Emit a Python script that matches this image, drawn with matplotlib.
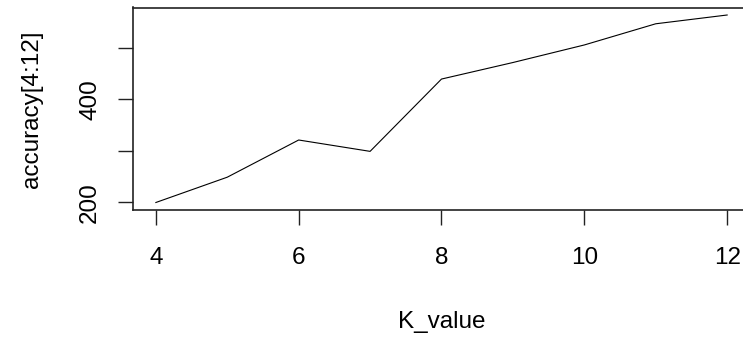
import numpy as np
import matplotlib
matplotlib.use('Agg')
from matplotlib import pyplot as plt

# values (R base plot)
k_value = [4, 5, 6, 7, 8, 9, 10, 11, 12]
accuracy = [200, 249, 321, 299, 439, 471, 505, 546, 563]
yticks = [200, 300, 400, 500]
ytick_labels = ['200', '', '400', '']
xticks = [4, 6, 8, 10, 12]

plt.rcParams.update({'font.family': ['Liberation Sans', 'DejaVu Sans'],
                     'font.size': 17.5})

fig = plt.figure(figsize=(7.43, 3.40), dpi=100)
# R plots a box that runs past the right edge of the screenshot
ax = fig.add_axes([133 / 743, 130 / 340, 617 / 743, 202.5 / 340])
ax.plot(k_value, accuracy, color='black', lw=0.8)
ax.margins(x=0.04, y=0.04)

ax.set_xticks(xticks)
ax.set_yticks(yticks)
ax.set_yticklabels(ytick_labels, rotation=90, va='center')
ax.tick_params(direction='out', length=11, width=1, color='#222222',
               labelcolor='black')
ax.tick_params(axis='x', pad=16)
ax.tick_params(axis='y', pad=12)
for sp in ax.spines.values():
    sp.set_linewidth(1.2)
    sp.set_color('#222222')

ax.set_xlabel('K_value', labelpad=30)
ax.set_ylabel('accuracy[4:12]', labelpad=26)

plt.savefig('out.png', dpi=100)
